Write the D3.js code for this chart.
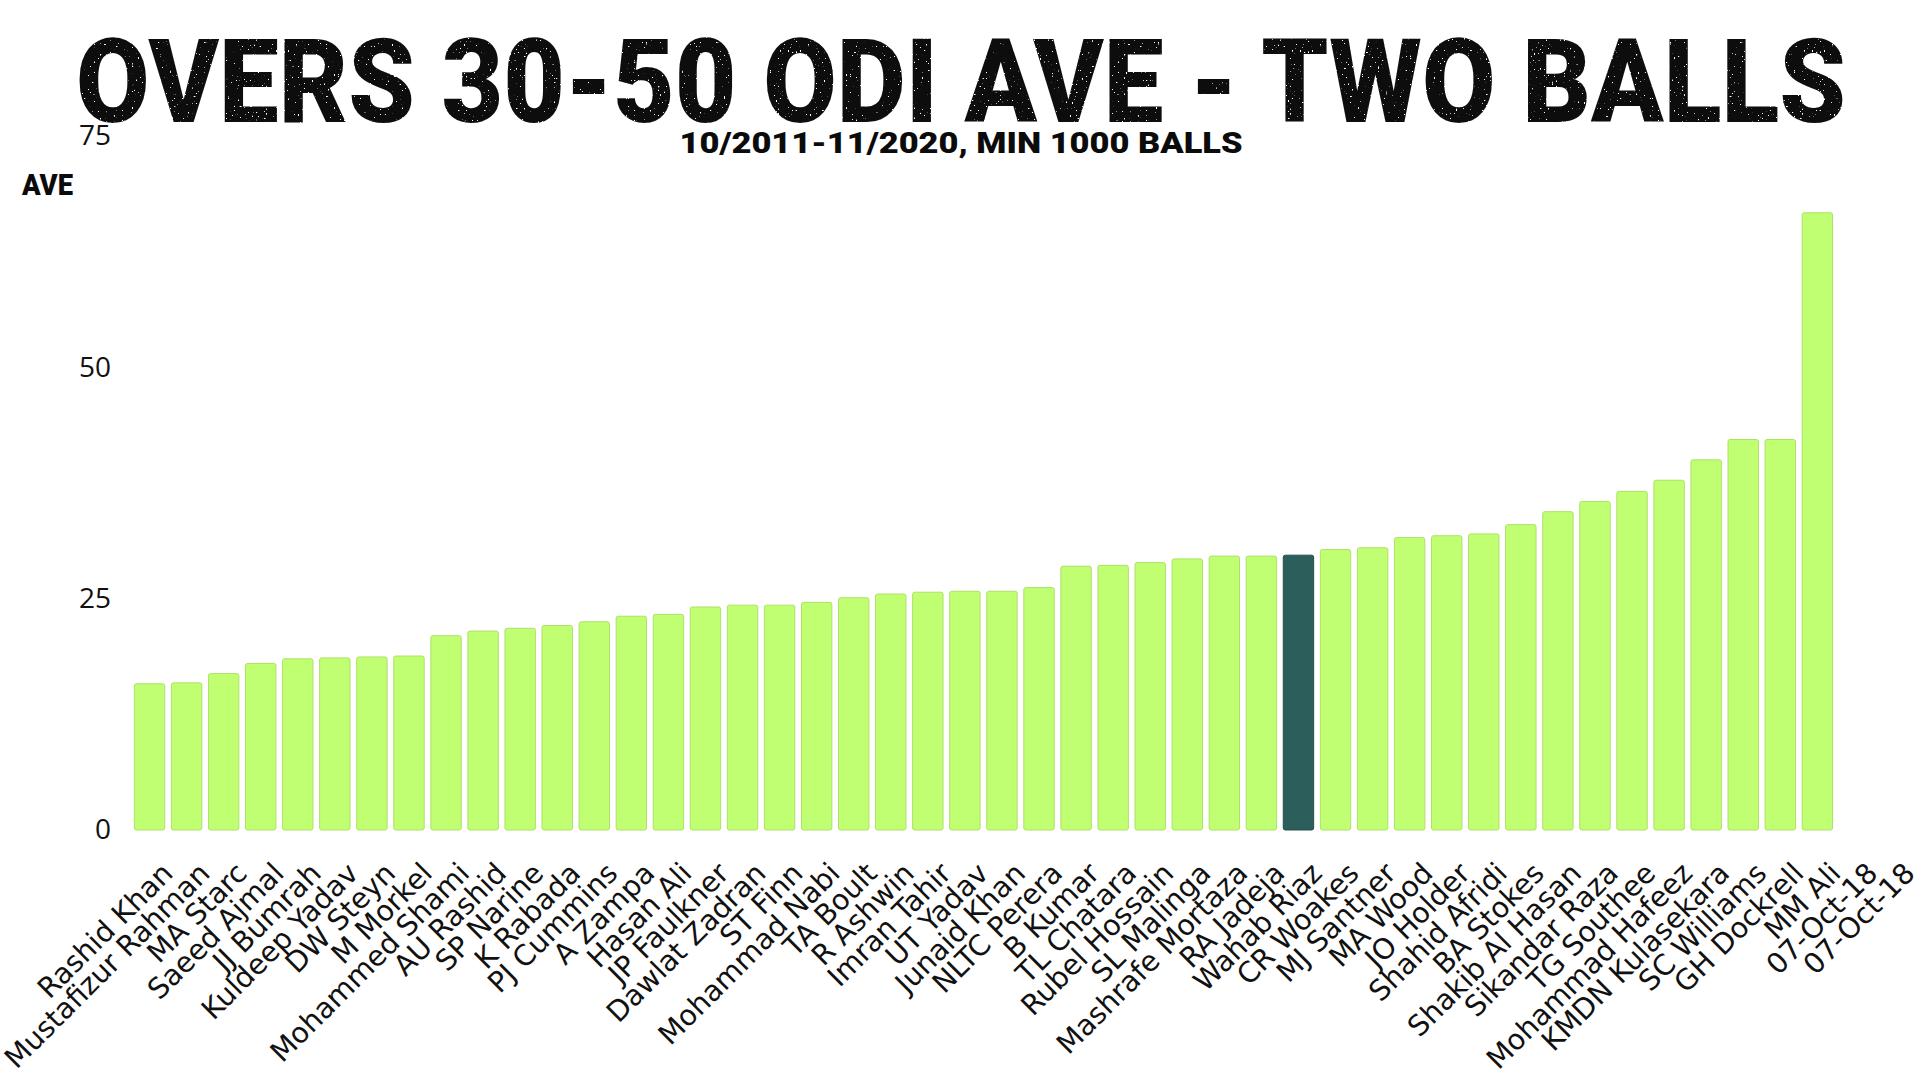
<!DOCTYPE html>
<html>
<head>
<meta charset="utf-8">
<script src="https://cdn.jsdelivr.net/npm/d3@7"></script>
<style>
  html, body { margin: 0; padding: 0; background: #ffffff; }
  svg { display: block; }
</style>
</head>
<body>
<svg id="chart" width="1920" height="1080"></svg>
<script>
// ---- data ----
const categories = [
  "Rashid Khan", "Mustafizur Rahman", "MA Starc", "Saeed Ajmal", "JJ Bumrah",
  "Kuldeep Yadav", "DW Steyn", "M Morkel", "Mohammed Shami", "AU Rashid",
  "SP Narine", "K Rabada", "PJ Cummins", "A Zampa", "Hasan Ali",
  "JP Faulkner", "Dawlat Zadran", "ST Finn", "Mohammad Nabi", "TA Boult",
  "R Ashwin", "Imran Tahir", "UT Yadav", "Junaid Khan", "NLTC Perera",
  "B Kumar", "TL Chatara", "Rubel Hossain", "SL Malinga", "Mashrafe Mortaza",
  "RA Jadeja", "Wahab Riaz", "CR Woakes", "MJ Santner", "MA Wood",
  "JO Holder", "Shahid Afridi", "BA Stokes", "Shakib Al Hasan", "Sikandar Raza",
  "TG Southee", "Mohammad Hafeez", "KMDN Kulasekara", "SC Williams", "GH Dockrell",
  "MM Ali", "07-Oct-18", "07-Oct-18"
];
const averages = [
  15.8, 15.9, 16.9, 18.0, 18.5,
  18.6, 18.7, 18.8, 21.0, 21.5,
  21.8, 22.1, 22.5, 23.1, 23.3,
  24.1, 24.3, 24.3, 24.6, 25.1,
  25.5, 25.7, 25.8, 25.8, 26.2,
  28.5, 28.6, 28.9, 29.3, 29.6,
  29.6, 29.7, 30.3, 30.5, 31.6,
  31.8, 32.0, 33.0, 34.4, 35.5,
  36.6, 37.8, 40.0, 42.2, 42.2,
  66.7
];
const highlighted = ["Wahab Riaz"];
const yTicks = [0, 25, 50, 75];
const titleText = "OVERS 30-50 ODI AVE - TWO BALLS";
const subtitleText = "10/2011-11/2020, MIN 1000 BALLS";
const yAxisTitle = "AVE";

// ---- layout ----
const svg = d3.select("#chart");

// sparse distressed speckles for the title
const defs = svg.append("defs");
const f = defs.append("filter").attr("id", "grunge")
  .attr("x", "-2%").attr("y", "-10%").attr("width", "104%").attr("height", "120%");
f.append("feTurbulence").attr("type", "fractalNoise").attr("baseFrequency", 0.5)
  .attr("numOctaves", 2).attr("seed", 7).attr("result", "noise");
f.append("feColorMatrix").attr("in", "noise").attr("type", "matrix")
  .attr("values", "0 0 0 0 0  0 0 0 0 0  0 0 0 0 0  -30 0 0 0 22").attr("result", "mask");
f.append("feComposite").attr("in", "SourceGraphic").attr("in2", "mask").attr("operator", "in");

const x = d3.scaleBand()
  .domain(d3.range(categories.length))
  .range([131, 1910])
  .paddingInner(0.18)
  .paddingOuter(0.09);
const y = d3.scaleLinear().domain([0, 75]).range([830, 136]);

const bars = averages.map((v, i) => ({ name: categories[i], value: v, i }));

// bars
svg.append("g")
  .selectAll("rect")
  .data(bars)
  .join("rect")
  .attr("x", d => x(d.i))
  .attr("y", d => y(d.value))
  .attr("width", x.bandwidth())
  .attr("height", d => y(0) - y(d.value))
  .attr("rx", 2)
  .attr("fill", d => highlighted.includes(d.name) ? "#2c5e5b" : "#c1ff72")
  .attr("stroke", d => highlighted.includes(d.name) ? "#264f4c" : "#aee066")
  .attr("stroke-width", 1);

// y axis (labels only)
const yAxis = d3.axisLeft(y).tickValues(yTicks).tickSize(0).tickPadding(0);
const yg = svg.append("g").attr("transform", "translate(111,0)").call(yAxis);
yg.select(".domain").remove();
yg.selectAll("text")
  .attr("font-family", "'Open Sans', sans-serif")
  .attr("font-size", 28)
  .attr("fill", "#111");

// x axis labels
const xAxis = d3.axisBottom(x).tickFormat(i => categories[i]).tickSize(0);
const xg = svg.append("g").attr("transform", "translate(0,830)").call(xAxis);
xg.select(".domain").remove();
xg.selectAll("text")
  .attr("font-family", "'DejaVu Sans', sans-serif")
  .attr("font-size", 28.5)
  .attr("fill", "#111")
  .attr("text-anchor", "end")
  .attr("dy", 0)
  .attr("y", 0)
  .attr("transform", "translate(25,45) rotate(-45)");

// title
svg.append("text")
  .attr("x", 961).attr("y", 122)
  .attr("text-anchor", "middle")
  .attr("font-family", "'Roboto', 'Inter', sans-serif")
  .attr("font-weight", 900)
  .attr("font-size", 116)
  .attr("textLength", 1770)
  .attr("lengthAdjust", "spacingAndGlyphs")
  .attr("fill", "#0b0b0b")
  .attr("filter", "url(#grunge)")
  .text(titleText);

// subtitle
svg.append("text")
  .attr("x", 961).attr("y", 153)
  .attr("text-anchor", "middle")
  .attr("font-family", "'Roboto', 'Inter', sans-serif")
  .attr("font-weight", 900)
  .attr("font-size", 29)
  .attr("textLength", 563)
  .attr("lengthAdjust", "spacingAndGlyphs")
  .attr("fill", "#0b0b0b")
  .text(subtitleText);

// y axis title
svg.append("text")
  .attr("x", 22).attr("y", 195)
  .attr("font-family", "'Roboto', 'Inter', sans-serif")
  .attr("font-weight", 900)
  .attr("font-size", 30)
  .attr("textLength", 51)
  .attr("lengthAdjust", "spacingAndGlyphs")
  .attr("fill", "#0b0b0b")
  .text(yAxisTitle);
</script>
</body>
</html>
